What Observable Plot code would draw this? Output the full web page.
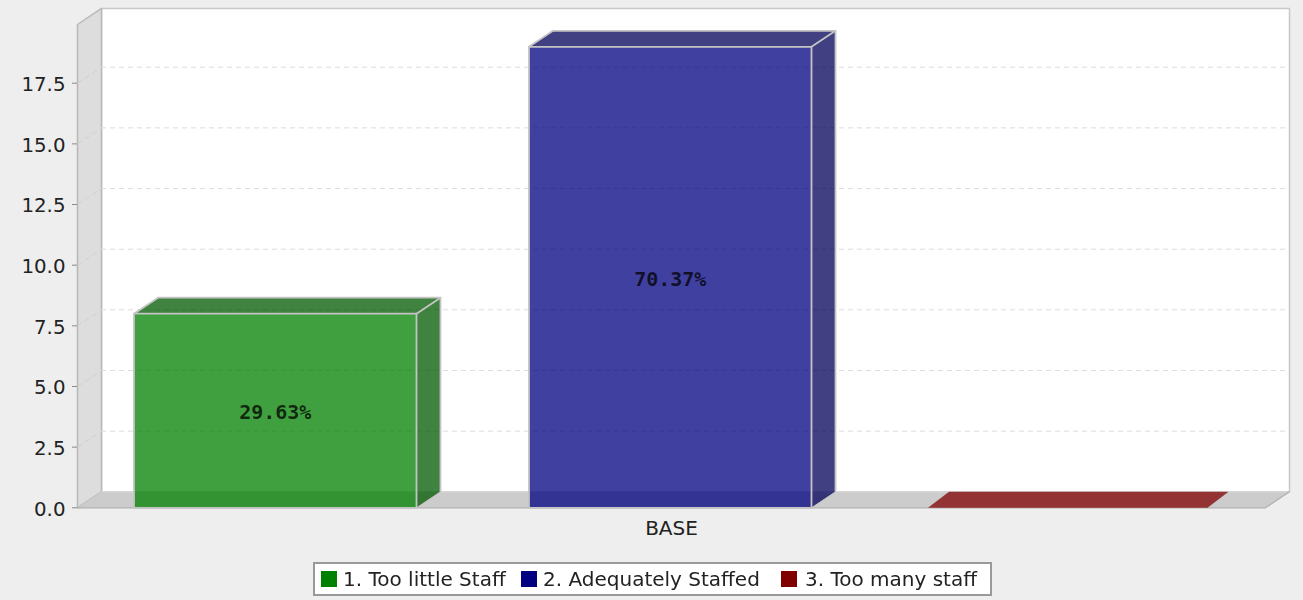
<!DOCTYPE html>
<html>
<head>
<meta charset="utf-8">
<script src="https://cdn.jsdelivr.net/npm/d3@7"></script>
<script src="https://cdn.jsdelivr.net/npm/@observablehq/plot@0.6"></script>
<style>
  html, body { margin: 0; padding: 0; background: #eeeeee; overflow: hidden; }
  #page { filter: blur(0.5px); }
  #legend { position: relative; box-sizing: border-box; margin: 4px 0 0 313px; width: 679px; height: 34px;
    background: #fff; border: 2px solid #999; font: 20px "DejaVu Sans", sans-serif; color: #222; }
  #legend span.s { position: absolute; top: 7px; width: 16px; height: 16px; }
  #legend span.t { position: absolute; top: 3.5px; white-space: nowrap; line-height: 22px; }
  svg { display: block; }
</style>
</head>
<body>
<div id="page">
<div id="chart"></div>
<div id="legend"></div>
</div>
<script>
const categories = ["BASE"];
const seriesNames = ["1. Too little Staff", "2. Adequately Staffed", "3. Too many staff"];
const seriesValues = [8, 19, 0];
const seriesLabels = ["29.63%", "70.37%", null];
const seriesColors = ["#008000", "#000080", "#800000"];
const sideColors = ["#005900", "#000059", "#590000"];
const yTicks = [0, 2.5, 5, 7.5, 10, 12.5, 15, 17.5];

// layout (fractions of the category axis, and 3-D depth)
const axisSpan = 1188;
const yMax = 19.92;
const depthX = 24 / axisSpan, depthY = 16 / 24.26;
const barStarts = [56.5 / axisSpan, 451.5 / axisSpan, 850.5 / axisSpan];
const barWidth = 282.5 / axisSpan;
const edge = "#c4c4c4";

const poly = (pts, o) => Plot.line(pts.map(([x, y]) => ({x, y})),
  {x: "x", y: "y", curve: "linear-closed", ...o});
const back = ([x, y]) => [x + depthX, y + depthY];

const marks = [];
// back wall, side wall, floor
marks.push(poly([[depthX, depthY], [1 + depthX, depthY], [1 + depthX, yMax + depthY], [depthX, yMax + depthY]],
  {fill: "#fff", stroke: "#c8c8c8", strokeWidth: 1.5}));
marks.push(poly([[0, 0], [depthX, depthY], [depthX, yMax + depthY], [0, yMax]],
  {fill: "#dddddd", stroke: "#b8b8b8", strokeWidth: 1.5}));
marks.push(poly([[0, 0], [1, 0], [1 + depthX, depthY], [depthX, depthY]], {fill: "#cccccc"}));
marks.push(Plot.line([[depthX, depthY], [1 + depthX, depthY]], {stroke: "#dcdcdc", strokeWidth: 1}));
marks.push(Plot.line([[0, 0], [1, 0], [1 + depthX, depthY]], {stroke: "#b0b0b0", strokeWidth: 1.2}));

// grid lines: across the back wall and slanting along the side wall
const grid = yTicks.filter(d => d > 0);
marks.push(Plot.ruleY(grid, {
  y: d => d + depthY, x1: depthX, x2: 1 + depthX,
  stroke: "#dcdcdc", strokeWidth: 1, strokeDasharray: "5,4"
}));
grid.forEach(t => marks.push(Plot.line([{x: 0, y: t}, {x: depthX, y: t + depthY}],
  {x: "x", y: "y", stroke: "#d0d0d0", strokeWidth: 1, strokeDasharray: "5,4"})));

// bars
seriesValues.forEach((v, i) => {
  const x0 = barStarts[i], x1 = x0 + barWidth;
  if (v > 0) {
    marks.push(poly([[x1, 0], back([x1, 0]), back([x1, v]), [x1, v]],
      {fill: sideColors[i], fillOpacity: 0.75}));
    marks.push(poly([[x0, v], [x1, v], back([x1, v]), back([x0, v])],
      {fill: sideColors[i], fillOpacity: 0.75}));
    marks.push(poly([[x0, 0], [x1, 0], [x1, v], [x0, v]],
      {fill: seriesColors[i], fillOpacity: 0.75}));
    marks.push(Plot.line([back([x0, v]), back([x1, v]), back([x1, 0])], {stroke: edge, strokeWidth: 1.8}));
    marks.push(poly([[x0, 0], [x1, 0], [x1, v], [x0, v]], {stroke: edge, strokeWidth: 1.8}));
    marks.push(Plot.line([[x1, v], back([x1, v])], {stroke: edge, strokeWidth: 1.8}));
    marks.push(Plot.line([[x0, v], back([x0, v])], {stroke: edge, strokeWidth: 1.8}));
    marks.push(Plot.line([[x1, 0], back([x1, 0])], {stroke: edge, strokeWidth: 1}));
  } else {
    marks.push(poly([[x0, 0], [x1 - 3 / axisSpan, 0], back([x1 - 6 / axisSpan, 0]), back([x0 - 3 / axisSpan, 0])],
      {fill: seriesColors[i], fillOpacity: 0.75}));
  }
  if (seriesLabels[i]) {
    marks.push(Plot.text([seriesLabels[i]], {
      x: (x0 + x1) / 2, y: v / 2, text: d => d, dy: 2,
      fill: "#000", fillOpacity: 0.75, fontSize: 20, fontWeight: "bold",
      fontFamily: "'DejaVu Sans Mono', monospace", textAnchor: "middle"
    }));
  }
});

// axes
marks.push(Plot.axisY({ticks: yTicks, text: null, tickSize: 5, stroke: "#888", label: null}));
marks.push(Plot.axisY({
  ticks: yTicks, tickFormat: d3.format(".1f"), tickSize: 0, tickPadding: 12, dy: 1.5,
  fontSize: 19.8, fontFamily: "'DejaVu Sans', sans-serif", fill: "#222", label: null
}));
marks.push(Plot.axisX({
  ticks: [0.5], tickFormat: () => categories[0], tickSize: 0, tickPadding: 12, dy: 1,
  fontSize: 20, fontFamily: "'DejaVu Sans', sans-serif", fill: "#222", label: null
}));

const chart = Plot.plot({
  width: 1303, height: 558,
  marginLeft: 77, marginRight: 38, marginTop: 24, marginBottom: 50.7,
  style: {background: "#eeeeee", overflow: "visible"},
  x: {type: "linear", domain: [0, 1], label: null},
  y: {type: "linear", domain: [0, yMax], label: null},
  marks
});
document.getElementById("chart").appendChild(chart);

// legend
const legend = document.getElementById("legend");
const swatchLeft = [6, 206, 466];
const textLeft = [28, 228, 490];
seriesNames.forEach((name, i) => {
  const s = document.createElement("span");
  s.className = "s";
  s.style.left = swatchLeft[i] + "px";
  s.style.background = seriesColors[i];
  const t = document.createElement("span");
  t.className = "t";
  t.style.left = textLeft[i] + "px";
  t.textContent = name;
  legend.append(s, t);
});
</script>
</body>
</html>
